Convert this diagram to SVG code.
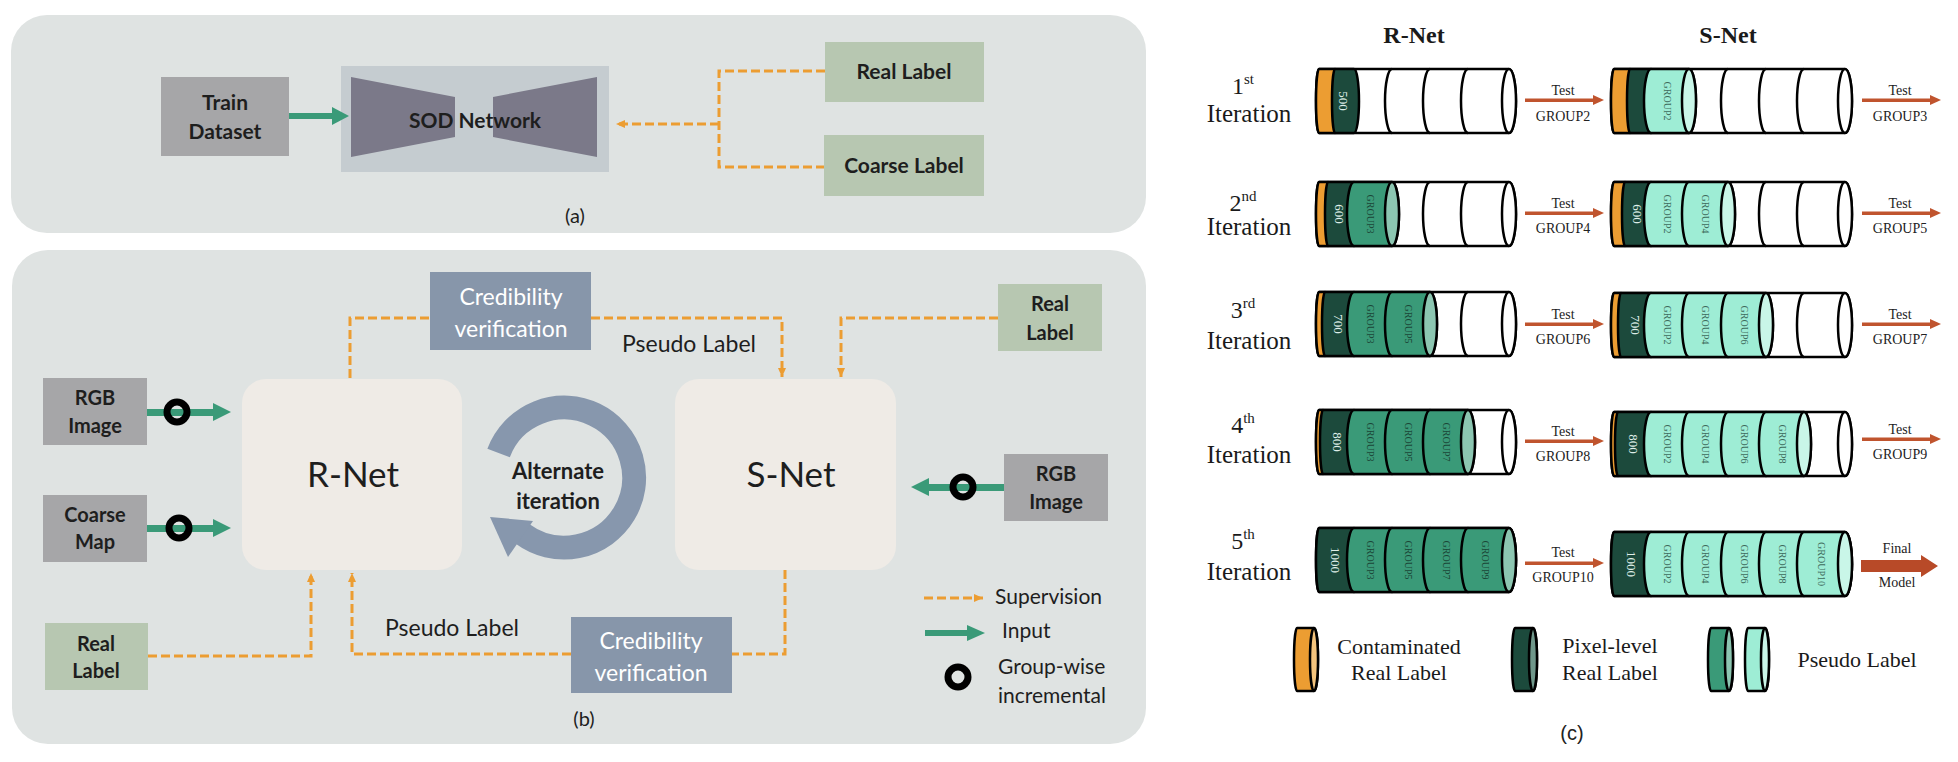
<svg xmlns="http://www.w3.org/2000/svg" width="1958" height="762" viewBox="0 0 1958 762">
<defs>
<style>
.sans{font-family:Lato,"Liberation Sans",sans-serif;fill:#1e1e1e}
.serif{font-family:"Liberation Serif","Times New Roman",serif;fill:#1a1a1a}
.panel{fill:#dfe3e2}
.grey{fill:#a6a6a8}
.sage{fill:#b7c7b1}
.cred{fill:#8796aa}
.net{fill:#efebe6}
.dash{fill:none;stroke:#ec9d32;stroke-width:3;stroke-dasharray:9 4}
.inp{fill:#3a9a78}
.ring{fill:none;stroke:#000;stroke-width:7}
.cyl{stroke:#000;stroke-width:2.5;stroke-linejoin:round}
.arc{fill:none;stroke:#000;stroke-width:2.5}
.wh{fill:#fff}
.or{fill:#ec9d32}
.dk{fill:#1c4a3c}
.md{fill:#3a9a78}
.mt{fill:#9eedd5}
.cmd{fill:#8cc6b1}
.cmt{fill:#c9f6e8}
.cdk{fill:#6f978a}
.cor{fill:#f4c47d}
.tn{font-family:"Liberation Serif",serif;font-size:13px;fill:#dfeee8}
.tg{font-family:"Liberation Serif",serif;font-size:10px;fill:#1b4637}
.tm{font-family:"Liberation Serif",serif;font-size:10px;fill:#3d6a5b}
.red{fill:#c0542e}
.sm{font-family:"Liberation Serif",serif;font-size:14px;fill:#222}
</style>
<marker id="ah" markerUnits="userSpaceOnUse" markerWidth="10" markerHeight="10" refX="9" refY="5" orient="auto"><path d="M0,1 L9,5 L0,9 Z" fill="#ec9d32"/></marker>
</defs>
<rect width="1958" height="762" fill="#fff"/>

<!-- Panel (a) -->
<g id="panel-a">
<rect class="panel" x="11" y="15" width="1135" height="218" rx="36"/>
<text class="sans" x="575" y="223" font-size="20" text-anchor="middle">(a)</text>
</g>
<g id="train-dataset">
<rect class="grey" x="161" y="77" width="128" height="79"/>
<text class="sans" x="225" y="110" font-size="21" font-weight="bold" text-anchor="middle">Train</text>
<text class="sans" x="225" y="139" font-size="21" font-weight="bold" text-anchor="middle">Dataset</text>
</g>
<g id="sod-network">
<rect x="341" y="66" width="268" height="106" fill="#c5ccd0"/>
<polygon points="351,77 455,97 455,137 351,157" fill="#7b7989"/>
<polygon points="493,97 597,77 597,157 493,137" fill="#7b7989"/>
<text class="sans" x="475" y="128" font-size="21" font-weight="bold" text-anchor="middle">SOD Network</text>
</g>
<g id="real-label-a">
<rect class="sage" x="825" y="42" width="159" height="60"/>
<text class="sans" x="904" y="79" font-size="21" font-weight="bold" text-anchor="middle">Real Label</text>
</g>
<g id="coarse-label-a">
<rect class="sage" x="824" y="135" width="160" height="61"/>
<text class="sans" x="904" y="173" font-size="21" font-weight="bold" text-anchor="middle">Coarse Label</text>
</g>

<!-- Panel (b) -->
<g id="panel-b">
<rect class="panel" x="12" y="250" width="1134" height="494" rx="36"/>
<text class="sans" x="584" y="726" font-size="20" text-anchor="middle">(b)</text>
</g>
<g id="cred-top">
<rect class="cred" x="430" y="272" width="161" height="78"/>
<text class="sans" x="511" y="305" font-size="23" text-anchor="middle" style="fill:#fff">Credibility</text>
<text class="sans" x="511" y="337" font-size="23" text-anchor="middle" style="fill:#fff">verification</text>
</g>
<g id="cred-bottom">
<rect class="cred" x="571" y="617" width="161" height="76"/>
<text class="sans" x="651" y="649" font-size="23" text-anchor="middle" style="fill:#fff">Credibility</text>
<text class="sans" x="651" y="681" font-size="23" text-anchor="middle" style="fill:#fff">verification</text>
</g>
<g id="r-net">
<rect class="net" x="242" y="379" width="220" height="191" rx="24"/>
<text class="sans" x="353" y="487" font-size="35" text-anchor="middle">R-Net</text>
</g>
<g id="s-net">
<rect class="net" x="675" y="379" width="221" height="191" rx="24"/>
<text class="sans" x="791" y="487" font-size="35" text-anchor="middle">S-Net</text>
</g>
<g id="rgb-left">
<rect class="grey" x="43" y="378" width="104" height="67"/>
<text class="sans" x="95" y="405" font-size="20" font-weight="bold" text-anchor="middle">RGB</text>
<text class="sans" x="95" y="433" font-size="20" font-weight="bold" text-anchor="middle">Image</text>
</g>
<g id="coarse-map">
<rect class="grey" x="43" y="495" width="104" height="67"/>
<text class="sans" x="95" y="522" font-size="20" font-weight="bold" text-anchor="middle">Coarse</text>
<text class="sans" x="95" y="549" font-size="20" font-weight="bold" text-anchor="middle">Map</text>
</g>
<g id="real-label-bl">
<rect class="sage" x="45" y="623" width="103" height="67"/>
<text class="sans" x="96" y="651" font-size="20" font-weight="bold" text-anchor="middle">Real</text>
<text class="sans" x="96" y="678" font-size="20" font-weight="bold" text-anchor="middle">Label</text>
</g>
<g id="real-label-tr">
<rect class="sage" x="998" y="284" width="104" height="67"/>
<text class="sans" x="1050" y="311" font-size="20" font-weight="bold" text-anchor="middle">Real</text>
<text class="sans" x="1050" y="340" font-size="20" font-weight="bold" text-anchor="middle">Label</text>
</g>
<g id="rgb-right">
<rect class="grey" x="1004" y="454" width="104" height="67"/>
<text class="sans" x="1056" y="481" font-size="20" font-weight="bold" text-anchor="middle">RGB</text>
<text class="sans" x="1056" y="509" font-size="20" font-weight="bold" text-anchor="middle">Image</text>
</g>
<g id="alternate">
<path d="M498.6,452.9 A70,70 0 1 1 522.5,533.9" fill="none" stroke="#8797ad" stroke-width="24"/>
<polygon points="490,517 533,521 508,557" fill="#8797ad"/>
<text class="sans" x="558" y="479" font-size="22" font-weight="bold" text-anchor="middle">Alternate</text>
<text class="sans" x="558" y="509" font-size="22" font-weight="bold" text-anchor="middle">iteration</text>
</g>
<g id="legend-b">
<path class="dash" d="M924,598 H983" marker-end="url(#ah)"/>
<text class="sans" x="995" y="604" font-size="21">Supervision</text>
<rect class="inp" x="925" y="630" width="44" height="6"/>
<polygon class="inp" points="967,625 985,633 967,641"/>
<text class="sans" x="1002" y="638" font-size="21">Input</text>
<circle class="ring" cx="958" cy="677" r="10"/>
<text class="sans" x="998" y="674" font-size="21">Group-wise</text>
<text class="sans" x="998" y="703" font-size="21">incremental</text>
</g>
<g id="pseudo-labels-b">
<text class="sans" x="689" y="352" font-size="23" text-anchor="middle">Pseudo Label</text>
<text class="sans" x="452" y="636" font-size="23" text-anchor="middle">Pseudo Label</text>
</g>

<!-- Panel (c) -->
<g id="panel-c-titles">
<text class="serif" x="1414" y="43" font-size="24" font-weight="bold" text-anchor="middle">R-Net</text>
<text class="serif" x="1728" y="43" font-size="24" font-weight="bold" text-anchor="middle">S-Net</text>
<text x="1572" y="740" font-size="20" text-anchor="middle" font-family="Liberation Sans, sans-serif" fill="#222">(c)</text>
</g>
<g id="iteration-labels" class="serif">
<text x="1243" y="94" font-size="24" text-anchor="middle">1<tspan font-size="15" dy="-10">st</tspan></text>
<text x="1249" y="122" font-size="25" text-anchor="middle">Iteration</text>
<text x="1243" y="211" font-size="24" text-anchor="middle">2<tspan font-size="15" dy="-10">nd</tspan></text>
<text x="1249" y="235" font-size="25" text-anchor="middle">Iteration</text>
<text x="1243" y="318" font-size="24" text-anchor="middle">3<tspan font-size="15" dy="-10">rd</tspan></text>
<text x="1249" y="349" font-size="25" text-anchor="middle">Iteration</text>
<text x="1243" y="433" font-size="24" text-anchor="middle">4<tspan font-size="15" dy="-10">th</tspan></text>
<text x="1249" y="463" font-size="25" text-anchor="middle">Iteration</text>
<text x="1243" y="549" font-size="24" text-anchor="middle">5<tspan font-size="15" dy="-10">th</tspan></text>
<text x="1249" y="580" font-size="25" text-anchor="middle">Iteration</text>
</g>

<!-- R-Net cylinders -->
<g id="r-row1">
<path class="cyl wh" d="M1319,69H1509A7 32 0 0 1 1509,133H1319A3 32 0 0 1 1319,69Z"/>
<path class="arc" d="M1392,69A7 32 0 0 0 1392,133M1430,69A7 32 0 0 0 1430,133M1468,69A7 32 0 0 0 1468,133"/>
<ellipse class="cyl wh" cx="1509" cy="101" rx="7" ry="32"/>
<path class="cyl or" d="M1319,69H1335A3 32 0 0 1 1335,133H1319A3 32 0 0 1 1319,69Z"/>
<path class="cyl dk" d="M1335,69H1354A5 32 0 0 1 1354,133H1335A3 32 0 0 1 1335,69Z"/>
<text class="tn" transform="translate(1344,101) rotate(90)" text-anchor="middle" dy="0.35em">500</text>
</g>
<g id="r-row2">
<path class="cyl wh" d="M1319,182H1509A7 32 0 0 1 1509,246H1319A3 32 0 0 1 1319,182Z"/>
<path class="arc" d="M1430,182A7 32 0 0 0 1430,246M1468,182A7 32 0 0 0 1468,246"/>
<ellipse class="cyl wh" cx="1509" cy="214" rx="7" ry="32"/>
<path class="cyl or" d="M1319,182H1328A3 32 0 0 1 1328,246H1319A3 32 0 0 1 1319,182Z"/>
<path class="cyl dk" d="M1328,182H1354A7 32 0 0 1 1354,246H1328A3 32 0 0 1 1328,182Z"/>
<path class="cyl md" d="M1354,182H1392A7 32 0 0 1 1392,246H1354A7 32 0 0 1 1354,182Z"/>
<ellipse class="cyl cmd" cx="1392" cy="214" rx="7" ry="32"/>
<text class="tn" transform="translate(1340,214) rotate(90)" text-anchor="middle" dy="0.35em">600</text>
<text class="tg" transform="translate(1370,214) rotate(90)" text-anchor="middle" dy="0.35em">GROUP3</text>
</g>
<g id="r-row3">
<path class="cyl wh" d="M1319,292H1509A7 32 0 0 1 1509,356H1319A3 32 0 0 1 1319,292Z"/>
<path class="arc" d="M1468,292A7 32 0 0 0 1468,356"/>
<ellipse class="cyl wh" cx="1509" cy="324" rx="7" ry="32"/>
<path class="cyl or" d="M1319,292H1325A3 32 0 0 1 1325,356H1319A3 32 0 0 1 1319,292Z"/>
<path class="cyl dk" d="M1325,292H1354A7 32 0 0 1 1354,356H1325A3 32 0 0 1 1325,292Z"/>
<path class="cyl md" d="M1354,292H1392A7 32 0 0 1 1392,356H1354A7 32 0 0 1 1354,292Z"/>
<path class="cyl md" d="M1392,292H1430A7 32 0 0 1 1430,356H1392A7 32 0 0 1 1392,292Z"/>
<ellipse class="cyl cmd" cx="1430" cy="324" rx="7" ry="32"/>
<text class="tn" transform="translate(1339,324) rotate(90)" text-anchor="middle" dy="0.35em">700</text>
<text class="tg" transform="translate(1370,324) rotate(90)" text-anchor="middle" dy="0.35em">GROUP3</text>
<text class="tg" transform="translate(1408,324) rotate(90)" text-anchor="middle" dy="0.35em">GROUP5</text>
</g>
<g id="r-row4">
<path class="cyl wh" d="M1319,410H1509A7 32 0 0 1 1509,474H1319A3 32 0 0 1 1319,410Z"/>
<ellipse class="cyl wh" cx="1509" cy="442" rx="7" ry="32"/>
<path class="cyl or" d="M1319,410H1323A3 32 0 0 1 1323,474H1319A3 32 0 0 1 1319,410Z"/>
<path class="cyl dk" d="M1323,410H1354A7 32 0 0 1 1354,474H1323A3 32 0 0 1 1323,410Z"/>
<path class="cyl md" d="M1354,410H1392A7 32 0 0 1 1392,474H1354A7 32 0 0 1 1354,410Z"/>
<path class="cyl md" d="M1392,410H1430A7 32 0 0 1 1430,474H1392A7 32 0 0 1 1392,410Z"/>
<path class="cyl md" d="M1430,410H1468A7 32 0 0 1 1468,474H1430A7 32 0 0 1 1430,410Z"/>
<ellipse class="cyl cmd" cx="1468" cy="442" rx="7" ry="32"/>
<text class="tn" transform="translate(1338,442) rotate(90)" text-anchor="middle" dy="0.35em">800</text>
<text class="tg" transform="translate(1370,442) rotate(90)" text-anchor="middle" dy="0.35em">GROUP3</text>
<text class="tg" transform="translate(1408,442) rotate(90)" text-anchor="middle" dy="0.35em">GROUP5</text>
<text class="tg" transform="translate(1446,442) rotate(90)" text-anchor="middle" dy="0.35em">GROUP7</text>
</g>
<g id="r-row5">
<path class="cyl wh" d="M1319,528H1509A7 32 0 0 1 1509,592H1319A3 32 0 0 1 1319,528Z"/>
<path class="cyl dk" d="M1319,528H1354A7 32 0 0 1 1354,592H1319A3 32 0 0 1 1319,528Z"/>
<path class="cyl md" d="M1354,528H1392A7 32 0 0 1 1392,592H1354A7 32 0 0 1 1354,528Z"/>
<path class="cyl md" d="M1392,528H1430A7 32 0 0 1 1430,592H1392A7 32 0 0 1 1392,528Z"/>
<path class="cyl md" d="M1430,528H1468A7 32 0 0 1 1468,592H1430A7 32 0 0 1 1430,528Z"/>
<path class="cyl md" d="M1468,528H1509A7 32 0 0 1 1509,592H1468A7 32 0 0 1 1468,528Z"/>
<ellipse class="cyl cmd" cx="1509" cy="560" rx="7" ry="32"/>
<text class="tn" transform="translate(1336,560) rotate(90)" text-anchor="middle" dy="0.35em">1000</text>
<text class="tg" transform="translate(1370,560) rotate(90)" text-anchor="middle" dy="0.35em">GROUP3</text>
<text class="tg" transform="translate(1408,560) rotate(90)" text-anchor="middle" dy="0.35em">GROUP5</text>
<text class="tg" transform="translate(1446,560) rotate(90)" text-anchor="middle" dy="0.35em">GROUP7</text>
<text class="tg" transform="translate(1485,560) rotate(90)" text-anchor="middle" dy="0.35em">GROUP9</text>
</g>

<!-- S-Net cylinders -->
<g id="s-row1">
<path class="cyl wh" d="M1614,69H1845A7 32 0 0 1 1845,133H1614A3 32 0 0 1 1614,69Z"/>
<path class="arc" d="M1728,69A7 32 0 0 0 1728,133M1766,69A7 32 0 0 0 1766,133M1804,69A7 32 0 0 0 1804,133"/>
<ellipse class="cyl wh" cx="1845" cy="101" rx="7" ry="32"/>
<path class="cyl or" d="M1614,69H1630A3 32 0 0 1 1630,133H1614A3 32 0 0 1 1614,69Z"/>
<path class="cyl dk" d="M1630,69H1651A7 32 0 0 1 1651,133H1630A3 32 0 0 1 1630,69Z"/>
<path class="cyl mt" d="M1651,69H1689A7 32 0 0 1 1689,133H1651A7 32 0 0 1 1651,69Z"/>
<ellipse class="cyl cmt" cx="1689" cy="101" rx="7" ry="32"/>
<text class="tm" transform="translate(1667,101) rotate(90)" text-anchor="middle" dy="0.35em">GROUP2</text>
</g>
<g id="s-row2">
<path class="cyl wh" d="M1614,182H1845A7 32 0 0 1 1845,246H1614A3 32 0 0 1 1614,182Z"/>
<path class="arc" d="M1766,182A7 32 0 0 0 1766,246M1804,182A7 32 0 0 0 1804,246"/>
<ellipse class="cyl wh" cx="1845" cy="214" rx="7" ry="32"/>
<path class="cyl or" d="M1614,182H1625A3 32 0 0 1 1625,246H1614A3 32 0 0 1 1614,182Z"/>
<path class="cyl dk" d="M1625,182H1651A7 32 0 0 1 1651,246H1625A3 32 0 0 1 1625,182Z"/>
<path class="cyl mt" d="M1651,182H1689A7 32 0 0 1 1689,246H1651A7 32 0 0 1 1651,182Z"/>
<path class="cyl mt" d="M1689,182H1728A7 32 0 0 1 1728,246H1689A7 32 0 0 1 1689,182Z"/>
<ellipse class="cyl cmt" cx="1728" cy="214" rx="7" ry="32"/>
<text class="tn" transform="translate(1638,214) rotate(90)" text-anchor="middle" dy="0.35em">600</text>
<text class="tm" transform="translate(1667,214) rotate(90)" text-anchor="middle" dy="0.35em">GROUP2</text>
<text class="tm" transform="translate(1705,214) rotate(90)" text-anchor="middle" dy="0.35em">GROUP4</text>
</g>
<g id="s-row3">
<path class="cyl wh" d="M1614,293H1845A7 32 0 0 1 1845,357H1614A3 32 0 0 1 1614,293Z"/>
<path class="arc" d="M1804,293A7 32 0 0 0 1804,357"/>
<ellipse class="cyl wh" cx="1845" cy="325" rx="7" ry="32"/>
<path class="cyl or" d="M1614,293H1621A3 32 0 0 1 1621,357H1614A3 32 0 0 1 1614,293Z"/>
<path class="cyl dk" d="M1621,293H1651A7 32 0 0 1 1651,357H1621A3 32 0 0 1 1621,293Z"/>
<path class="cyl mt" d="M1651,293H1689A7 32 0 0 1 1689,357H1651A7 32 0 0 1 1651,293Z"/>
<path class="cyl mt" d="M1689,293H1728A7 32 0 0 1 1728,357H1689A7 32 0 0 1 1689,293Z"/>
<path class="cyl mt" d="M1728,293H1766A7 32 0 0 1 1766,357H1728A7 32 0 0 1 1728,293Z"/>
<ellipse class="cyl cmt" cx="1766" cy="325" rx="7" ry="32"/>
<text class="tn" transform="translate(1636,325) rotate(90)" text-anchor="middle" dy="0.35em">700</text>
<text class="tm" transform="translate(1667,325) rotate(90)" text-anchor="middle" dy="0.35em">GROUP2</text>
<text class="tm" transform="translate(1705,325) rotate(90)" text-anchor="middle" dy="0.35em">GROUP4</text>
<text class="tm" transform="translate(1744,325) rotate(90)" text-anchor="middle" dy="0.35em">GROUP6</text>
</g>
<g id="s-row4">
<path class="cyl wh" d="M1614,412H1845A7 32 0 0 1 1845,476H1614A3 32 0 0 1 1614,412Z"/>
<ellipse class="cyl wh" cx="1845" cy="444" rx="7" ry="32"/>
<path class="cyl or" d="M1614,412H1618A3 32 0 0 1 1618,476H1614A3 32 0 0 1 1614,412Z"/>
<path class="cyl dk" d="M1618,412H1651A7 32 0 0 1 1651,476H1618A3 32 0 0 1 1618,412Z"/>
<path class="cyl mt" d="M1651,412H1689A7 32 0 0 1 1689,476H1651A7 32 0 0 1 1651,412Z"/>
<path class="cyl mt" d="M1689,412H1728A7 32 0 0 1 1728,476H1689A7 32 0 0 1 1689,412Z"/>
<path class="cyl mt" d="M1728,412H1766A7 32 0 0 1 1766,476H1728A7 32 0 0 1 1728,412Z"/>
<path class="cyl mt" d="M1766,412H1804A7 32 0 0 1 1804,476H1766A7 32 0 0 1 1766,412Z"/>
<ellipse class="cyl cmt" cx="1804" cy="444" rx="7" ry="32"/>
<text class="tn" transform="translate(1634,444) rotate(90)" text-anchor="middle" dy="0.35em">800</text>
<text class="tm" transform="translate(1667,444) rotate(90)" text-anchor="middle" dy="0.35em">GROUP2</text>
<text class="tm" transform="translate(1705,444) rotate(90)" text-anchor="middle" dy="0.35em">GROUP4</text>
<text class="tm" transform="translate(1744,444) rotate(90)" text-anchor="middle" dy="0.35em">GROUP6</text>
<text class="tm" transform="translate(1782,444) rotate(90)" text-anchor="middle" dy="0.35em">GROUP8</text>
</g>
<g id="s-row5">
<path class="cyl wh" d="M1614,532H1845A7 32 0 0 1 1845,596H1614A3 32 0 0 1 1614,532Z"/>
<path class="cyl dk" d="M1614,532H1651A7 32 0 0 1 1651,596H1614A3 32 0 0 1 1614,532Z"/>
<path class="cyl mt" d="M1651,532H1689A7 32 0 0 1 1689,596H1651A7 32 0 0 1 1651,532Z"/>
<path class="cyl mt" d="M1689,532H1728A7 32 0 0 1 1728,596H1689A7 32 0 0 1 1689,532Z"/>
<path class="cyl mt" d="M1728,532H1766A7 32 0 0 1 1766,596H1728A7 32 0 0 1 1728,532Z"/>
<path class="cyl mt" d="M1766,532H1804A7 32 0 0 1 1804,596H1766A7 32 0 0 1 1766,532Z"/>
<path class="cyl mt" d="M1804,532H1845A7 32 0 0 1 1845,596H1804A7 32 0 0 1 1804,532Z"/>
<ellipse class="cyl cmt" cx="1845" cy="564" rx="7" ry="32"/>
<text class="tn" transform="translate(1632,564) rotate(90)" text-anchor="middle" dy="0.35em">1000</text>
<text class="tm" transform="translate(1667,564) rotate(90)" text-anchor="middle" dy="0.35em">GROUP2</text>
<text class="tm" transform="translate(1705,564) rotate(90)" text-anchor="middle" dy="0.35em">GROUP4</text>
<text class="tm" transform="translate(1744,564) rotate(90)" text-anchor="middle" dy="0.35em">GROUP6</text>
<text class="tm" transform="translate(1782,564) rotate(90)" text-anchor="middle" dy="0.35em">GROUP8</text>
<text class="tm" transform="translate(1821,564) rotate(90)" text-anchor="middle" dy="0.35em">GROUP10</text>
</g>

<!-- Legend (c) -->
<g id="legend-c">
<path class="cyl or" d="M1297,628H1314A4 31.5 0 0 1 1314,691H1297A3 31.5 0 0 1 1297,628Z"/>
<ellipse class="cyl cor" cx="1314" cy="659.5" rx="4" ry="31.5"/>
<text class="serif" x="1399" y="654" font-size="22" text-anchor="middle">Contaminated</text>
<text class="serif" x="1399" y="680" font-size="22" text-anchor="middle">Real Label</text>
<path class="cyl dk" d="M1515,628H1533A4 31.5 0 0 1 1533,691H1515A3 31.5 0 0 1 1515,628Z"/>
<ellipse class="cyl cdk" cx="1533" cy="659.5" rx="4" ry="31.5"/>
<text class="serif" x="1610" y="653" font-size="22" text-anchor="middle">Pixel-level</text>
<text class="serif" x="1610" y="680" font-size="22" text-anchor="middle">Real Label</text>
<path class="cyl md" d="M1711,628H1729A4 31.5 0 0 1 1729,691H1711A3 31.5 0 0 1 1711,628Z"/>
<ellipse class="cyl cmd" cx="1729" cy="659.5" rx="4" ry="31.5"/>
<path class="cyl mt" d="M1748,628H1765A4 31.5 0 0 1 1765,691H1748A3 31.5 0 0 1 1748,628Z"/>
<ellipse class="cyl cmt" cx="1765" cy="659.5" rx="4" ry="31.5"/>
<text class="serif" x="1857" y="667" font-size="22" text-anchor="middle">Pseudo Label</text>
</g>

<!-- Connectors -->
<g id="connectors">
<rect class="inp" x="289" y="113" width="45" height="6"/>
<polygon class="inp" points="332,107 349,116 332,125"/>
<path class="dash" d="M825,71 H719 V167 H824"/>
<path class="dash" d="M719,124 H616" marker-end="url(#ah)"/>
<path class="dash" d="M350,378 V318 H430"/>
<path class="dash" d="M591,318 H782 V377" marker-end="url(#ah)"/>
<path class="dash" d="M998,318 H841 V377" marker-end="url(#ah)"/>
<path class="dash" d="M148,656 H311 V573" marker-end="url(#ah)"/>
<path class="dash" d="M785,570 V654 H732"/>
<path class="dash" d="M571,654 H352 V573" marker-end="url(#ah)"/>
<rect class="inp" x="147" y="409" width="67" height="7"/>
<polygon class="inp" points="213,403 231,412 213,421"/>
<circle class="ring" cx="177" cy="412" r="10"/>
<rect class="inp" x="147" y="525" width="67" height="7"/>
<polygon class="inp" points="213,519 231,528 213,537"/>
<circle class="ring" cx="179" cy="528" r="10"/>
<rect class="inp" x="928" y="484" width="76" height="7"/>
<polygon class="inp" points="929,478 911,487 929,496"/>
<circle class="ring" cx="963" cy="487" r="10"/>
<g id="test-arrows">
<rect class="red" x="1525" y="98.5" width="70" height="3.5"/>
<polygon class="red" points="1593,95 1604,100 1593,105"/>
<rect class="red" x="1525" y="211.5" width="70" height="3.5"/>
<polygon class="red" points="1593,208 1604,213 1593,218"/>
<rect class="red" x="1525" y="322.5" width="70" height="3.5"/>
<polygon class="red" points="1593,319 1604,324 1593,329"/>
<rect class="red" x="1525" y="439.5" width="70" height="3.5"/>
<polygon class="red" points="1593,436 1604,441 1593,446"/>
<rect class="red" x="1525" y="561.5" width="70" height="3.5"/>
<polygon class="red" points="1593,558 1604,563 1593,568"/>
<rect class="red" x="1862" y="98.5" width="70" height="3.5"/>
<polygon class="red" points="1930,95 1941,100 1930,105"/>
<rect class="red" x="1862" y="211.5" width="70" height="3.5"/>
<polygon class="red" points="1930,208 1941,213 1930,218"/>
<rect class="red" x="1862" y="322.5" width="70" height="3.5"/>
<polygon class="red" points="1930,319 1941,324 1930,329"/>
<rect class="red" x="1862" y="437.5" width="70" height="3.5"/>
<polygon class="red" points="1930,434 1941,439 1930,444"/>
<polygon points="1861,560 1921,560 1921,555 1938,566 1921,577 1921,572 1861,572" fill="#b84a28"/>
</g>
<g id="test-labels" class="sm" text-anchor="middle">
<text x="1563" y="95">Test</text><text x="1563" y="121">GROUP2</text>
<text x="1563" y="208">Test</text><text x="1563" y="233">GROUP4</text>
<text x="1563" y="319">Test</text><text x="1563" y="344">GROUP6</text>
<text x="1563" y="436">Test</text><text x="1563" y="461">GROUP8</text>
<text x="1563" y="557">Test</text><text x="1563" y="582">GROUP10</text>
<text x="1900" y="95">Test</text><text x="1900" y="121">GROUP3</text>
<text x="1900" y="208">Test</text><text x="1900" y="233">GROUP5</text>
<text x="1900" y="319">Test</text><text x="1900" y="344">GROUP7</text>
<text x="1900" y="434">Test</text><text x="1900" y="459">GROUP9</text>
<text x="1897" y="553">Final</text><text x="1897" y="587">Model</text>
</g>
</g>
</svg>
